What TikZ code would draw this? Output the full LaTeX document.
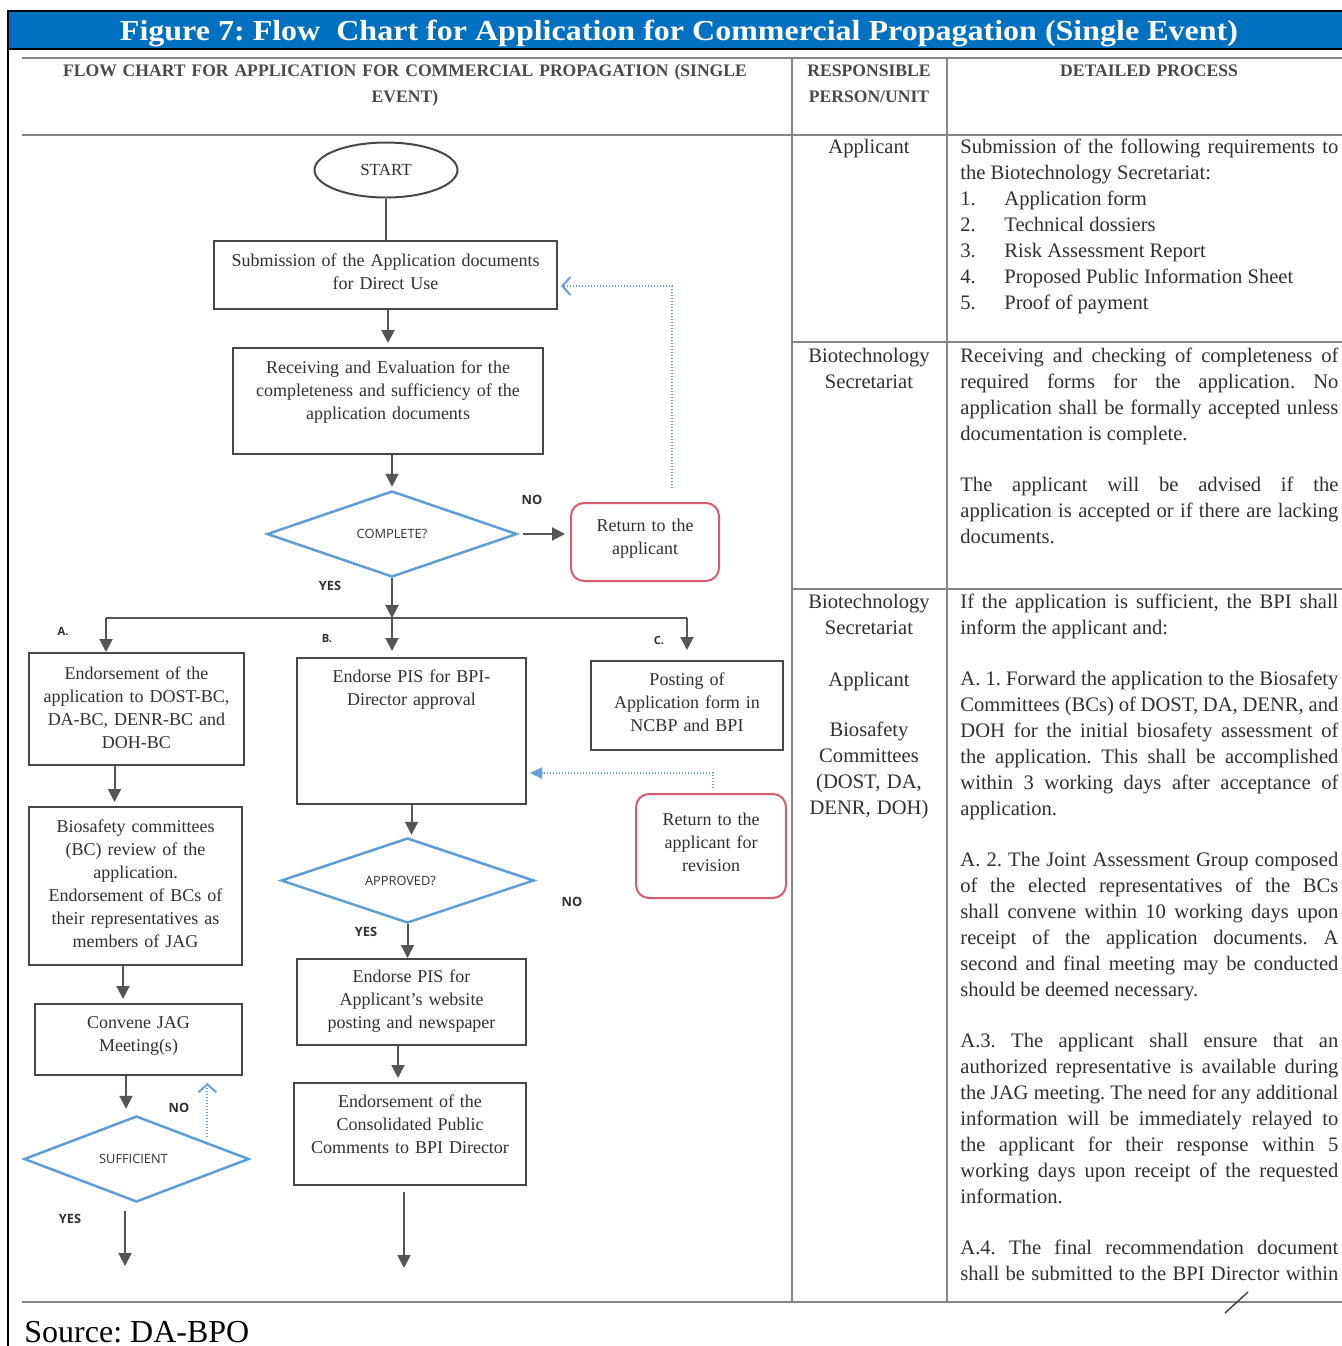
\documentclass[tikz,border=0pt]{standalone}
\usepackage{fontspec}
\usepackage{graphicx}
\setmainfont{Liberation Serif}
\newfontfamily\sansfont{Open Sans}
\usetikzlibrary{shapes.geometric,arrows.meta,calc}

\definecolor{barblue}{HTML}{0070C0}
\definecolor{rulegray}{HTML}{858585}
\definecolor{boxgray}{HTML}{474747}
\definecolor{inkgray}{HTML}{303030}
\definecolor{headgray}{HTML}{4A4A4A}
\definecolor{arrowgray}{HTML}{555555}
\definecolor{decblue}{HTML}{5E9DD6}
\definecolor{retred}{HTML}{D85C6E}
\definecolor{dotblue}{HTML}{6A9FD8}

% use the font's own (stretchable) interword space
\newcommand{\plainspaces}{\spaceskip=0pt\relax}
% a line stretched to the full width of the process column
\newcommand{\jl}[1]{{\plainspaces\makebox[189pt][s]{#1}}}
% a numbered list entry
\newcommand{\itm}[2]{\makebox[22pt][l]{#1}#2}

\tikzset{
  proc/.style={draw=boxgray, line width=1pt, inner sep=0pt, align=center,
    font=\fontsize{9}{11.5}\selectfont, text=inkgray, anchor=north west},
  retbox/.style={proc, draw=retred, rounded corners=6.5pt},
  decision/.style={diamond, draw=decblue, line width=1.25pt, inner sep=0pt,
    font=\sansfont\fontsize{6.4}{7}\selectfont, text=inkgray},
  flowarrow/.style={draw=arrowgray, line width=1pt,
    -{Triangle[length=6.5pt,width=6.5pt]}},
  joinline/.style={draw=arrowgray, line width=1pt},
  fback/.style={draw=dotblue, line width=1pt, dash pattern=on 0.6pt off 0.9pt},
  branchtag/.style={font=\sansfont\bfseries\fontsize{6.4}{7}\selectfont,
    text=inkgray, inner sep=0pt},
  lettertag/.style={branchtag, font=\sansfont\bfseries\fontsize{5.6}{6}\selectfont},
  tabrule/.style={draw=rulegray, line width=0.75pt},
  bodytext/.style={font=\fontsize{10.3}{13}\selectfont, text=inkgray, inner sep=0pt},
  headtext/.style={font=\bfseries\fontsize{8.8}{13}\selectfont, text=headgray,
    inner sep=0pt, align=center},
}

\begin{document}
\frenchspacing
\begin{tikzpicture}[x=0.5pt,y=-0.5pt]
\useasboundingbox (0,0) rectangle (1342,1346);
\fill[white] (0,0) rectangle (1342,1346);

% title bar and frame
\fill[barblue] (8,11) rectangle (1343,49);
\draw[black, line width=1pt] (1343,11) -- (8,11) -- (8,1347);
\draw[black, line width=1pt] (8,49) -- (1343,49);
\node[font=\bfseries\fontsize{14.5}{16}\selectfont, text=white, inner sep=0pt,
  anchor=base] (title) at (679,40)
  {\resizebox{559pt}{\height}{Figure 7: Flow\ \ Chart for Application for Commercial Propagation (Single Event)}};

% table rules
\draw[tabrule] (22,58) -- (1342,58);
\draw[tabrule] (22,135) -- (1342,135);
\draw[tabrule] (22,1302) -- (1342,1302);
\draw[tabrule] (792,58) -- (792,1302);
\draw[tabrule] (947,58) -- (947,1302);
\draw[tabrule] (792,342) -- (1342,342);
\draw[tabrule] (792,589) -- (1342,589);
\draw[draw=boxgray, line width=0.75pt] (1248,1292) -- (1225,1313);

% column heads
\node[headtext, text width=360pt, anchor=base] (hflow) at (405,76)
  {FLOW CHART FOR APPLICATION FOR COMMERCIAL PROPAGATION (SINGLE\\EVENT)};
\node[headtext, text width=75pt, anchor=base] (hresp) at (869,76)
  {RESPONSIBLE\\PERSON/UNIT};
\node[headtext, text width=150pt, anchor=base] (hdet) at (1149,76)
  {DETAILED PROCESS};

% responsible person / unit
\node[bodytext, text width=75pt, align=center, anchor=base] (m1) at (869,153)
  {Applicant};
\node[bodytext, text width=75pt, align=center, anchor=base] (m2) at (869,362)
  {Biotechnology\\Secretariat};
\node[bodytext, text width=75pt, align=center, anchor=base] (m3) at (869,608)
  {\plainspaces Biotechnology\\Secretariat\\[13pt]Applicant\\[12pt]Biosafety\\Committees\\(DOST, DA,\\DENR, DOH)};

% detailed process
\node[bodytext, text width=189pt, align=left, anchor=base west] (d1) at (960,153)
  {\plainspaces
   \jl{Submission of the following requirements to}\\
   the Biotechnology Secretariat:\\
   \itm{1.}{Application form}\\
   \itm{2.}{Technical dossiers}\\
   \itm{3.}{Risk Assessment Report}\\
   \itm{4.}{Proposed Public Information Sheet}\\
   \itm{5.}{Proof of payment}};
\node[bodytext, text width=189pt, align=left, anchor=base west] (d2) at (960,362)
  {\plainspaces
   \jl{Receiving and checking of completeness of}\\
   \jl{required forms for the application. No}\\
   \jl{application shall be formally accepted unless}\\
   documentation is complete.\\[12.5pt]
   \jl{The applicant will be advised if the}\\
   \jl{application is accepted or if there are lacking}\\
   documents.};
\node[bodytext, text width=189pt, align=left, anchor=base west] (d3) at (960,608)
  {\plainspaces
   \jl{If the application is sufficient, the BPI shall}\\
   inform the applicant and:\\[12.5pt]
   \jl{A. 1. Forward the application to the Biosafety}\\
   \jl{Committees (BCs) of DOST, DA, DENR, and}\\
   \jl{DOH for the initial biosafety assessment of}\\
   \jl{the application. This shall be accomplished}\\
   \jl{within 3 working days after acceptance of}\\
   application.\\[12.5pt]
   \jl{A. 2. The Joint Assessment Group composed}\\
   \jl{of the elected representatives of the BCs}\\
   \jl{shall convene within 10 working days upon}\\
   \jl{receipt of the application documents. A}\\
   \jl{second and final meeting may be conducted}\\
   should be deemed necessary.\\[12.5pt]
   \jl{A.3. The applicant shall ensure that an}\\
   \jl{authorized representative is available during}\\
   \jl{the JAG meeting. The need for any additional}\\
   \jl{information will be immediately relayed to}\\
   \jl{the applicant for their response within 5}\\
   \jl{working days upon receipt of the requested}\\
   information.\\[12.5pt]
   \jl{A.4. The final recommendation document}\\
   \jl{shall be submitted to the BPI Director within}};

% flow chart: main trunk
\node[ellipse, draw=boxgray, line width=1pt, minimum width=71.5pt, minimum height=27.5pt,
  inner sep=0pt, font=\fontsize{8.5}{10}\selectfont, text=inkgray] (start) at (386,170) {START};
\node[proc, text width=171.5pt, text height=12.5pt, text depth=21.5pt] (box1) at (213,240)
  {Submission of the Application documents\\for Direct Use};
\node[proc, text width=155pt, text height=12.5pt, text depth=40.5pt] (box2) at (232,347)
  {Receiving and Evaluation for the\\completeness and sufficiency of the\\application documents};
\node[decision, minimum width=125pt, minimum height=43pt] (complete) at (392,534) {COMPLETE?};
\node[retbox, text width=74pt, text height=14pt, text depth=25pt] (ret1) at (570,502)
  {Return to the\\applicant};

% branch A
\node[proc, text width=107.5pt, text height=13pt, text depth=43pt] (a1) at (28,652)
  {Endorsement of the\\application to DOST-BC,\\DA-BC, DENR-BC and\\DOH-BC};
\node[proc, text width=106.5pt, text height=12.5pt, text depth=66.5pt] (a2) at (28,806)
  {Biosafety committees\\(BC) review of the\\application.\\Endorsement of BCs of\\their representatives as\\members of JAG};
\node[proc, text width=103.5pt, text height=12pt, text depth=23.5pt] (a3) at (34,1003)
  {Convene JAG\\Meeting(s)};
\node[decision, minimum width=112.5pt, minimum height=43pt] (suff) at (136.5,1159)
  {\hspace*{-3pt}SUFFICIENT};

% branch B
\node[proc, text width=114.5pt, text height=12pt, text depth=61pt] (b1) at (296,657)
  {Endorse PIS for BPI-\\Director approval};
\node[decision, minimum width=126.5pt, minimum height=42.5pt] (approved) at (407.5,880.5)
  {\hspace*{-7pt}APPROVED?};
\node[proc, text width=114.5pt, text height=11.5pt, text depth=31.5pt] (b2) at (296,958)
  {Endorse PIS for\\Applicant’s website\\posting and newspaper};
\node[proc, text width=116pt, text height=12pt, text depth=39pt] (b3) at (293,1082)
  {Endorsement of the\\Consolidated Public\\Comments to BPI Director};
\node[retbox, text width=75pt, text height=15.5pt, text depth=36.5pt] (ret2) at (635,793)
  {Return to the\\applicant for\\revision};

% branch C
\node[proc, text width=96pt, text height=12pt, text depth=32.5pt] (c) at (590,660)
  {Posting of\\Application form in\\NCBP and BPI};

% branch labels
\node[branchtag] (noc) at (532,500) {NO};
\node[branchtag] (yesc) at (330,586) {YES};
\node[lettertag] (la) at (63,632) {A.};
\node[lettertag] (lb) at (327,639) {B.};
\node[lettertag] (lc) at (659,641) {C.};
\node[branchtag] (yesap) at (366,932) {YES};
\node[branchtag] (noap) at (572,902) {NO};
\node[branchtag] (nosuf) at (179,1108) {NO};
\node[branchtag] (yessuf) at (70,1219) {YES};

% source line
\node[font=\fontsize{16}{18}\selectfont, text=black, inner sep=0pt, anchor=base west]
  (src) at (24,1342) {Source: DA-BPO};

% connectors: main trunk
\draw[joinline] (start.south) -- (start.south |- box1.north);
\draw[flowarrow, shorten >=2pt] (box2.north |- box1.south) -- (box2.north);
\draw[flowarrow, shorten >=1.5pt] (complete.north |- box2.south) -- (complete.north);
\draw[flowarrow, shorten <=2.5pt, shorten >=2.5pt] (complete.east) -- (complete.east -| ret1.west);
\draw[fback, -{Straight Barb[length=4pt,width=9pt]}]
  ($(ret1.north)+(27,-14)$) |- ($(box1.east)+(3,11)$);

% connectors: fork into A, B, C
\coordinate (forkrow) at (0,618);
\coordinate (fork) at (complete.south |- forkrow);
\coordinate (forkA) at (106,618);
\coordinate (forkC) at (c.north |- forkrow);
\draw[flowarrow] (complete.south) -- (fork);
\draw[joinline] (forkA) -- (forkC);
\draw[flowarrow] (forkA) -- (forkA |- a1.north);
\draw[flowarrow, shorten >=3pt] (fork) -- (fork |- b1.north);
\draw[flowarrow, shorten >=5pt] (forkC) -- (c.north);

% connectors: branch A
\draw[flowarrow, shorten >=2pt] ([xshift=-11pt]a1.south) -- ([xshift=-11pt]a1.south |- a2.north);
\draw[flowarrow, shorten >=2pt] ([xshift=-6.25pt]a2.south) -- ([xshift=-6.25pt]a2.south |- a3.north);
\draw[flowarrow, shorten >=3pt] ([xshift=-6.25pt]a3.south) -- ([xshift=-6.25pt]a3.south |- suff.north);
\coordinate (sufno) at ($(suff.north east)+(14,0)$);
\draw[fback, -{Straight Barb[length=4pt,width=9pt]}, shorten >=3.5pt] (sufno) -- (sufno |- a3.south);
\coordinate (endA) at (125,1266);
\draw[flowarrow] (endA |- suff.south) ++(0,8) -- (endA);

% connectors: branch B
\draw[flowarrow, shorten >=1pt] (b1.south) -- (b1.south |- approved.north);
\draw[flowarrow] (approved.south) -- (approved.south |- b2.north);
\draw[flowarrow, shorten >=2pt] ([xshift=-6.75pt]b2.south) -- ([xshift=-6.75pt]b2.south |- b3.north);
\coordinate (endB) at (404,1268);
\draw[flowarrow] (endB |- b3.south) ++(0,6) -- (endB);
\draw[fback, -{Triangle[length=6pt,width=5.5pt]}]
  ($(ret2.north)+(2,-5)$) |- ($(b1.east)+(3,42)$);
\end{tikzpicture}
\end{document}
